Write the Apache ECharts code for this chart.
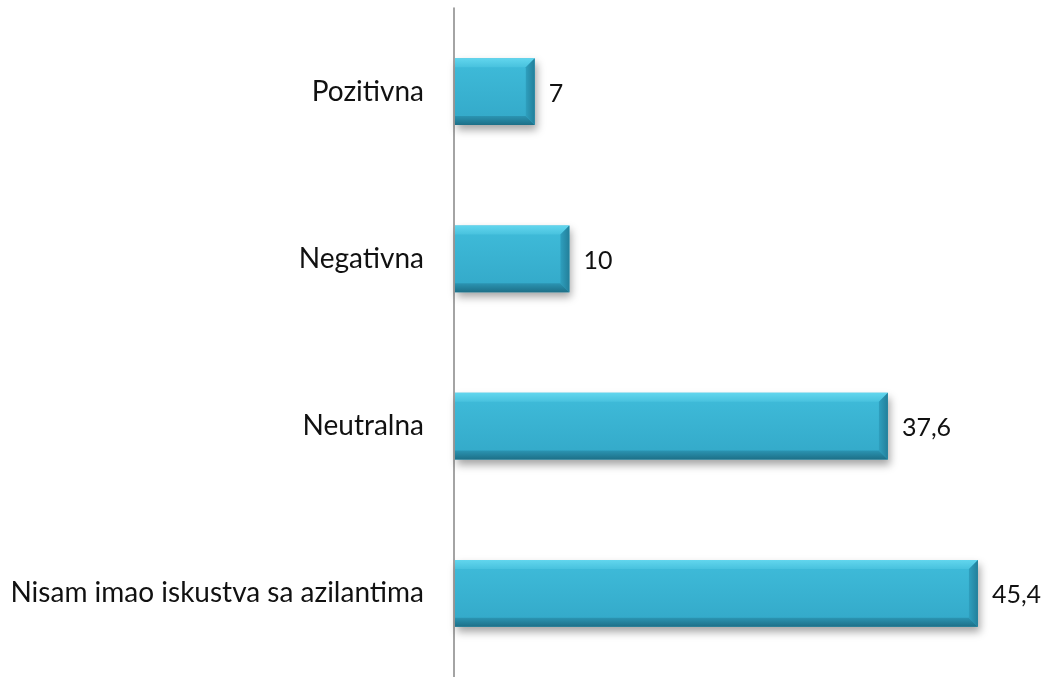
<!DOCTYPE html>
<html><head><meta charset="utf-8">
<script src="https://cdn.jsdelivr.net/npm/echarts@6/dist/echarts.min.js"></script>
<style>html,body{margin:0;padding:0;background:#fff}#c{width:1052px;height:677px}</style>
</head><body><div id="c"></div>
<script>
const categories = ["Nisam imao iskustva sa azilantima", "Neutralna", "Negativna", "Pozitivna"];
const values = [45.4, 37.6, 10, 7];

const chart = echarts.init(document.getElementById('c'));
const FONT = 'Lato, "Open Sans", sans-serif';

function renderItem(params, api) {
  const idx = api.value(0);
  const v = api.value(1);
  const end = api.coord([v, idx]);
  const start = api.coord([0, idx]);
  const band = api.size([0, 1])[1];
  const h = band * 0.4;
  const x0 = start[0] + 1, x1 = end[0];
  const y0 = end[1] - h / 2, y1 = end[1] + h / 2;
  const b = 9;
  return {
    type: 'group',
    children: [
      { type: 'rect', shape: { x: x0, y: y0, width: x1 - x0, height: h },
        style: { fill: new echarts.graphic.LinearGradient(0, 0, 0, 1, [
          { offset: 0, color: '#3fbcda' }, { offset: 1, color: '#33a8c8' }]),
          shadowBlur: 8, shadowOffsetY: 5, shadowOffsetX: 2, shadowColor: 'rgba(0,0,0,0.35)' } },
      { type: 'polygon', shape: { points: [[x0, y0], [x1, y0], [x1 - b, y0 + b], [x0, y0 + b]] },
        style: { fill: new echarts.graphic.LinearGradient(0, 0, 0, 1, [
          { offset: 0, color: '#62d6ee' }, { offset: 1, color: '#48c2de' }]) } },
      { type: 'polygon', shape: { points: [[x0, y1], [x1, y1], [x1 - b, y1 - b], [x0, y1 - b]] },
        style: { fill: new echarts.graphic.LinearGradient(0, 0, 0, 1, [
          { offset: 0, color: '#2b94b2' }, { offset: 1, color: '#1d6f87' }]) } },
      { type: 'polygon', shape: { points: [[x1, y0], [x1, y1], [x1 - b, y1 - b], [x1 - b, y0 + b]] },
        style: { fill: new echarts.graphic.LinearGradient(0, 0, 1, 0, [
          { offset: 0, color: '#2e9fbe' }, { offset: 1, color: '#237f9a' }]) } },
      { type: 'text', x: x1 + 14, y: end[1] + 2,
        style: { text: String(v).replace('.', ','), fill: '#111', font: '25px ' + FONT,
          verticalAlign: 'middle', align: 'left' } }
    ]
  };
}

chart.setOption({
  animation: false,
  grid: { left: 454, right: 21, top: 8, height: 672 },
  xAxis: { type: 'value', min: 0, max: 50, show: false },
  yAxis: { type: 'category', data: categories,
    axisLine: { show: true, lineStyle: { color: '#868686', width: 1.5 } },
    axisTick: { show: false },
    axisLabel: { color: '#111', fontSize: 28, fontFamily: FONT, margin: 30 } },
  series: [{ type: 'custom', renderItem: renderItem, encode: { x: 1, y: 0 },
    data: values.map((v, i) => [i, v]) }]
});
</script></body></html>
